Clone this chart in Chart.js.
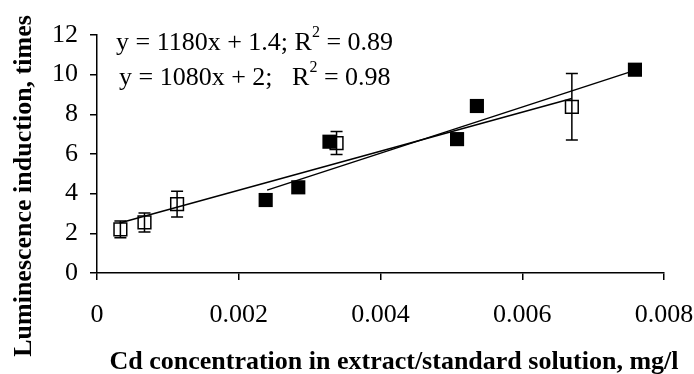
<!DOCTYPE html>
<html>
<head>
<meta charset="utf-8">
<script src="https://cdn.jsdelivr.net/npm/chart.js@4"></script>
<style>
  html, body { margin: 0; padding: 0; background: #fff; }
  #wrap { width: 694px; height: 374px; }
</style>
</head>
<body>
<div id="wrap"><canvas id="chart" width="694" height="374"></canvas></div>
<script>
// sample data (filled squares)
const sampleX = [0.00238, 0.00284, 0.00328, 0.00508, 0.00536, 0.00759];
const sampleY = [3.68, 4.32, 6.62, 6.75, 8.42, 10.25];

// standard solution (open squares) with error bars
const standardX = [0.00033, 0.00067, 0.00113, 0.00338, 0.0067];
const standardY = [2.2, 2.55, 3.47, 6.55, 8.38];
const standardErr = [0.42, 0.48, 0.65, 0.58, 1.68];

// trend line end points
const trendSampleX = [0.0024, 0.0076];
const trendSampleY = [4.18, 10.23];
const trendStandardX = [0.00032, 0.0067];
const trendStandardY = [2.52, 8.8];

const xTicks = [0, 0.002, 0.004, 0.006, 0.008];
const yTicks = [0, 2, 4, 6, 8, 10, 12];

const xTitle = 'Cd concentration in extract/standard solution, mg/l';
const yTitle = 'Luminescence induction, times';

const equations = [
  { text: 'y = 1180x + 1.4; R', sup: '2', tail: ' = 0.89' },
  { text: 'y = 1080x + 2;   R', sup: '2', tail: ' = 0.98' },
];

const FONT = '"Liberation Serif", "Times New Roman", serif';

const toPoints = (xs, ys) => xs.map((x, i) => ({ x, y: ys[i] }));

// Error bars drawn on top of the open squares
const errorBars = {
  id: 'errorBars',
  afterDatasetsDraw(chart) {
    const { ctx, scales: { x, y } } = chart;
    ctx.save();
    ctx.strokeStyle = '#000';
    ctx.lineWidth = 1.5;
    standardX.forEach((v, i) => {
      const px = x.getPixelForValue(v);
      const top = y.getPixelForValue(standardY[i] + standardErr[i]);
      const bot = y.getPixelForValue(standardY[i] - standardErr[i]);
      ctx.beginPath();
      ctx.moveTo(px, top); ctx.lineTo(px, bot);
      ctx.moveTo(px - 6, top); ctx.lineTo(px + 6, top);
      ctx.moveTo(px - 6, bot); ctx.lineTo(px + 6, bot);
      ctx.stroke();
    });
    ctx.restore();
  }
};

// Regression equations and axis titles
const textLayer = {
  id: 'textLayer',
  afterDraw(chart) {
    const { ctx } = chart;
    const rows = [{ x: 116, y: 50 }, { x: 119, y: 85 }];
    ctx.save();
    ctx.fillStyle = '#000';
    ctx.textBaseline = 'alphabetic';
    equations.forEach((eq, i) => {
      let cx = rows[i].x;
      ctx.font = '26px ' + FONT;
      ctx.fillText(eq.text, cx, rows[i].y);
      cx += ctx.measureText(eq.text).width;
      ctx.font = '16px ' + FONT;
      ctx.fillText(eq.sup, cx, rows[i].y - 13);
      cx += ctx.measureText(eq.sup).width;
      ctx.font = '26px ' + FONT;
      ctx.fillText(eq.tail, cx, rows[i].y);
    });

    ctx.font = 'bold 26px ' + FONT;
    ctx.textAlign = 'center';
    ctx.fillText(xTitle, 394, 369);

    ctx.translate(31, 186);
    ctx.rotate(-Math.PI / 2);
    ctx.fillText(yTitle, 0, 0);
    ctx.restore();
  }
};

new Chart(document.getElementById('chart'), {
  type: 'scatter',
  data: {
    datasets: [
      {
        label: 'trend sample',
        data: toPoints(trendSampleX, trendSampleY),
        showLine: true,
        borderColor: '#000',
        borderWidth: 1.5,
        pointRadius: 0,
      },
      {
        label: 'trend standard',
        data: toPoints(trendStandardX, trendStandardY),
        showLine: true,
        borderColor: '#000',
        borderWidth: 1.5,
        pointRadius: 0,
      },
      {
        label: 'extract',
        data: toPoints(sampleX, sampleY),
        pointStyle: 'rect',
        pointRadius: 10,
        backgroundColor: '#000',
        borderColor: '#000',
        borderWidth: 0,
      },
      {
        label: 'standard solution',
        data: toPoints(standardX, standardY),
        pointStyle: 'rect',
        pointRadius: 9,
        backgroundColor: '#fff',
        borderColor: '#000',
        borderWidth: 1.5,
      },
    ],
  },
  options: {
    responsive: false,
    animation: false,
    layout: { padding: { top: 35, right: 30, left: 0, bottom: 0 } },
    plugins: {
      legend: { display: false },
      tooltip: { enabled: false },
    },
    scales: {
      x: {
        type: 'linear',
        min: 0,
        max: 0.008,
        afterBuildTicks: s => { s.ticks = xTicks.map(v => ({ value: v })); },
        afterFit: s => { s.height = 101; s.paddingLeft = 0; s.paddingRight = 0; },
        ticks: {
          color: '#000',
          font: { family: FONT, size: 26 },
          padding: 20,
          maxRotation: 0,
          callback: v => (v === 0 ? '0' : v.toFixed(3)),
        },
        grid: { drawOnChartArea: false, drawTicks: true, tickLength: 7, color: '#000', lineWidth: 1.5 },
        border: { color: '#000', width: 1.5 },
      },
      y: {
        min: 0,
        max: 12,
        afterBuildTicks: s => { s.ticks = yTicks.map(v => ({ value: v })); },
        afterFit: s => { s.width = 97; s.paddingTop = 0; s.paddingBottom = 0; },
        ticks: {
          color: '#000',
          font: { family: FONT, size: 26 },
          padding: 12,
        },
        grid: { drawOnChartArea: false, drawTicks: true, tickLength: 7, color: '#000', lineWidth: 1.5 },
        border: { color: '#000', width: 1.5 },
      },
    },
  },
  plugins: [errorBars, textLayer],
});
</script>
</body>
</html>
